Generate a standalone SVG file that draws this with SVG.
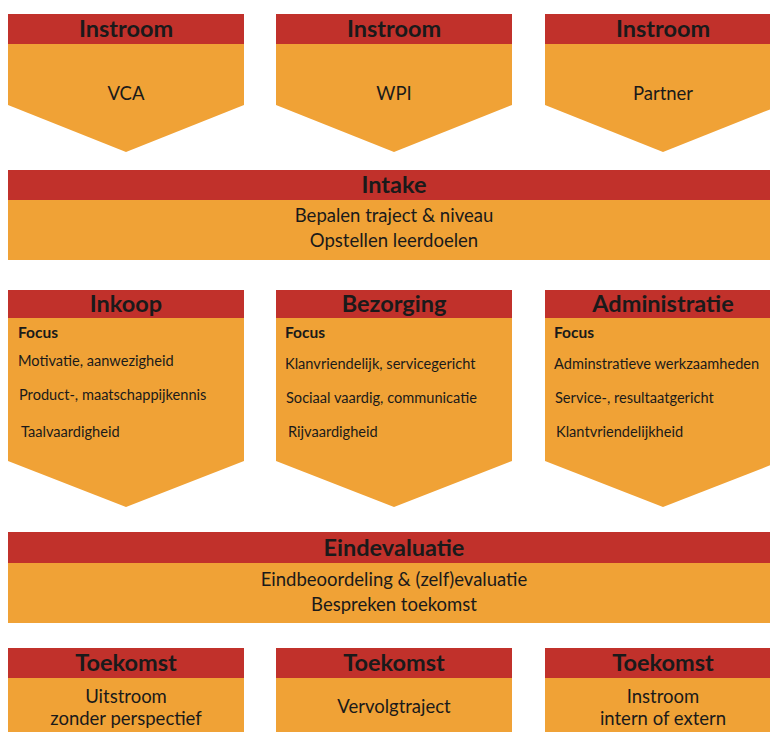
<svg xmlns="http://www.w3.org/2000/svg" width="770" height="732" viewBox="0 0 770 732">
<style>
.hd{fill:#C1312B}
.bd{fill:#F0A236}
.ht{font-family:Lato,"Open Sans","Liberation Sans",sans-serif;font-weight:bold;font-size:23.5px;fill:#1a1a1a;text-anchor:middle}
.bt{font-family:Lato,"Open Sans","Liberation Sans",sans-serif;font-size:18.5px;fill:#1a1a1a;text-anchor:middle}
.ft{font-family:Lato,"Open Sans","Liberation Sans",sans-serif;font-weight:bold;font-size:15.5px;fill:#1a1a1a}
.it{font-family:Lato,"Open Sans","Liberation Sans",sans-serif;font-size:14.6px;fill:#1a1a1a}
</style>
<rect width="770" height="732" fill="#ffffff"/>
<g id="instroom-vca">
<polygon class="bd" points="8,44 244,44 244,105 126,152 8,105"/>
<rect class="hd" x="8" y="14" width="236" height="30"/>
<text class="ht" x="126" y="36.5">Instroom</text>
<text class="bt" x="126" y="99.5">VCA</text>
</g>
<g id="instroom-wpi">
<polygon class="bd" points="276,44 512,44 512,105 394,152 276,105"/>
<rect class="hd" x="276" y="14" width="236" height="30"/>
<text class="ht" x="394" y="36.5">Instroom</text>
<text class="bt" x="394" y="99.5">WPI</text>
</g>
<g id="instroom-partner">
<polygon class="bd" points="545,44 781,44 781,105 663,152 545,105"/>
<rect class="hd" x="545" y="14" width="236" height="30"/>
<text class="ht" x="663" y="36.5">Instroom</text>
<text class="bt" x="663" y="99.5">Partner</text>
</g>
<g id="intake">
<rect class="bd" x="8" y="200" width="773" height="60"/>
<rect class="hd" x="8" y="170" width="773" height="30"/>
<text class="ht" x="394" y="192.5">Intake</text>
<text class="bt" x="394" y="222">Bepalen traject &amp; niveau</text>
<text class="bt" x="394" y="247">Opstellen leerdoelen</text>
</g>
<g id="inkoop">
<polygon class="bd" points="8,318 244,318 244,461 126,507 8,461"/>
<rect class="hd" x="8" y="290" width="236" height="28"/>
<text class="ht" x="126" y="312">Inkoop</text>
<text class="ft" x="18" y="337.5">Focus</text>
<text class="it" x="18" y="366">Motivatie, aanwezigheid</text>
<text class="it" x="19" y="400">Product-, maatschappijkennis</text>
<text class="it" x="21" y="436.5">Taalvaardigheid</text>
</g>
<g id="bezorging">
<polygon class="bd" points="276,318 512,318 512,461 394,507 276,461"/>
<rect class="hd" x="276" y="290" width="236" height="28"/>
<text class="ht" x="394" y="312">Bezorging</text>
<text class="ft" x="285" y="337.5">Focus</text>
<text class="it" x="285" y="368.5">Klanvriendelijk, servicegericht</text>
<text class="it" x="286" y="403">Sociaal vaardig, communicatie</text>
<text class="it" x="288" y="437">Rijvaardigheid</text>
</g>
<g id="administratie">
<polygon class="bd" points="545,318 781,318 781,461 663,507 545,461"/>
<rect class="hd" x="545" y="290" width="236" height="28"/>
<text class="ht" x="663" y="312">Administratie</text>
<text class="ft" x="554" y="337.5">Focus</text>
<text class="it" x="554" y="368.5">Adminstratieve werkzaamheden</text>
<text class="it" x="555" y="403">Service-, resultaatgericht</text>
<text class="it" x="556" y="437">Klantvriendelijkheid</text>
</g>
<g id="eindevaluatie">
<rect class="bd" x="8" y="563" width="773" height="60"/>
<rect class="hd" x="8" y="532" width="773" height="31"/>
<text class="ht" x="394" y="555.5">Eindevaluatie</text>
<text class="bt" x="394" y="586">Eindbeoordeling &amp; (zelf)evaluatie</text>
<text class="bt" x="394" y="610.5">Bespreken toekomst</text>
</g>
<g id="toekomst-uitstroom">
<rect class="bd" x="8" y="678" width="236" height="60"/>
<rect class="hd" x="8" y="648" width="236" height="30"/>
<text class="ht" x="126" y="670.5">Toekomst</text>
<text class="bt" x="126" y="702.5">Uitstroom</text>
<text class="bt" x="126" y="725">zonder perspectief</text>
</g>
<g id="toekomst-vervolg">
<rect class="bd" x="276" y="678" width="236" height="60"/>
<rect class="hd" x="276" y="648" width="236" height="30"/>
<text class="ht" x="394" y="670.5">Toekomst</text>
<text class="bt" x="394" y="712.5">Vervolgtraject</text>
</g>
<g id="toekomst-instroom">
<rect class="bd" x="545" y="678" width="236" height="60"/>
<rect class="hd" x="545" y="648" width="236" height="30"/>
<text class="ht" x="663" y="670.5">Toekomst</text>
<text class="bt" x="663" y="702.5">Instroom</text>
<text class="bt" x="663" y="725">intern of extern</text>
</g>
<g id="connectors"></g>
</svg>
